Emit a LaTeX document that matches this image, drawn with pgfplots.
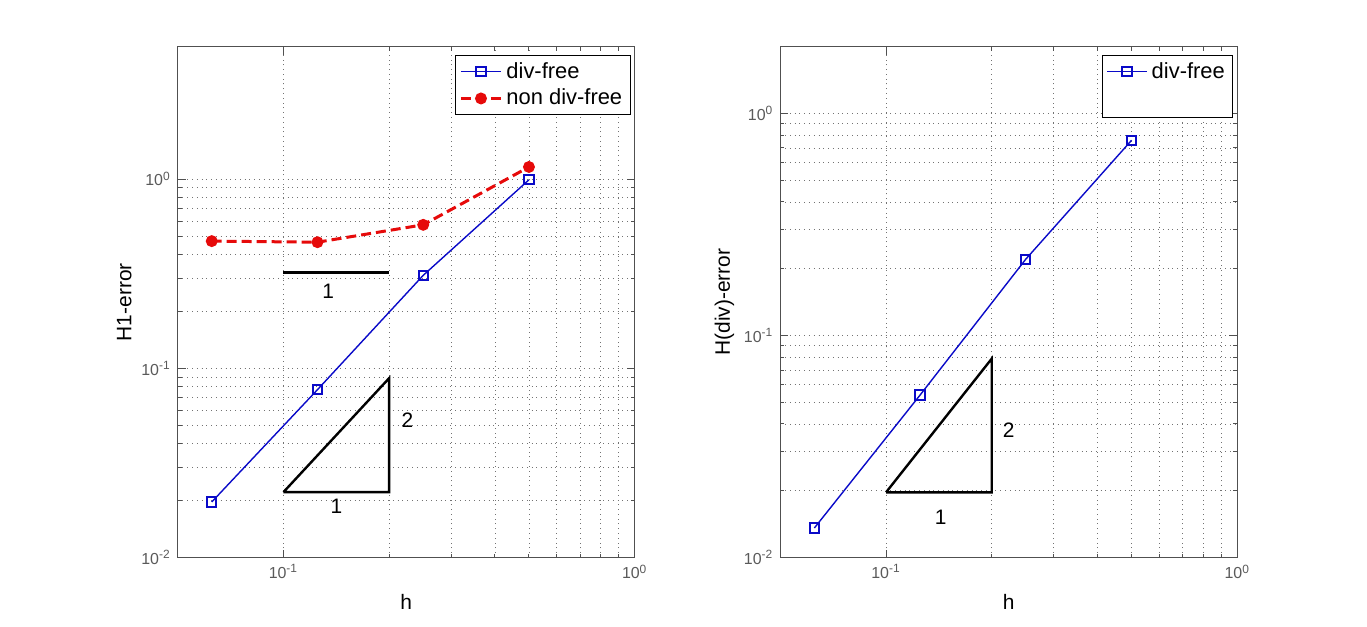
\documentclass[border=0pt]{standalone}
\usepackage{fontspec}
\setmainfont{Liberation Sans}
\usepackage{pgfplots}
\pgfplotsset{compat=1.18}
\definecolor{mblue}{RGB}{10,10,200}
\definecolor{mred}{RGB}{230,10,10}
\definecolor{axgray}{RGB}{80,80,80}
\definecolor{tlgray}{RGB}{90,90,90}
\begin{document}
\begin{tikzpicture}
\useasboundingbox (0,0) rectangle (683.5bp,313.5bp);
\begin{axis}[at={(88.85bp,34.65bp)}, anchor=south west,
  xmode=log, ymode=log,
  scale only axis, width=228.5bp, height=255.5bp,
  xmin=0.05, xmax=1, ymin=0.01, ymax=5,
  xtick={0.1,1}, xticklabels={10\textsuperscript{-1},10\textsuperscript{0}},
  ytick={0.01,0.1,1}, yticklabels={10\textsuperscript{-2},10\textsuperscript{-1},10\textsuperscript{0}},
  grid=both,
  major grid style={dotted, black!55, line width=0.4bp},
  minor grid style={dotted, black!55, line width=0.4bp},
  axis line style={axgray, line width=0.5bp},
  tick style={axgray, line width=0.5bp},
  tick align=inside,
  major tick length=4bp, minor tick length=2bp,
  tick label style={font=\fontsize{8}{9}\selectfont, text=tlgray},
  xlabel={h}, ylabel={H1-error},
  xlabel style={font=\fontsize{10.5}{12}\selectfont, yshift=-1bp},
  ylabel style={font=\fontsize{10.5}{12}\selectfont, yshift=-2bp},
  legend style={at={(1,1)}, anchor=north east, xshift=-2bp, yshift=-4bp,
    draw=black, line width=0.5bp, font=\fontsize{11}{13}\selectfont,
    inner xsep=2bp, inner ysep=1.5bp, row sep=0bp},
  legend cell align=left,
  legend image code/.code={\draw[mark repeat=2,mark phase=2,#1] plot coordinates {(0bp,0bp) (10bp,0bp) (20bp,0bp)};},
]
\addplot[mblue, line width=0.7bp, mark=square, mark size=2.3bp, mark options={solid, line width=1bp}] coordinates {(0.0625,0.0197) (0.125,0.0772) (0.25,0.310) (0.5,0.991)};
\addlegendentry{div-free}
\addplot[mred, line width=1.5bp, dash pattern=on 5bp off 2.5bp, mark=*, mark size=2.2bp, mark options={solid}] coordinates {(0.0625,0.470) (0.125,0.464) (0.25,0.573) (0.5,1.158)};
\addlegendentry{non div-free}
\addplot[black, line width=1.2bp, forget plot] coordinates {(0.1,0.0222) (0.2,0.0222) (0.2,0.0888) (0.1,0.0222)};
\addplot[black, line width=1.2bp, forget plot] coordinates {(0.1,0.3206) (0.2,0.3206)};
\node[font=\fontsize{10.5}{12}\selectfont] at (axis cs:0.1416,0.0188) {1};
\node[font=\fontsize{10.5}{12}\selectfont] at (axis cs:0.2255,0.053) {2};
\node[font=\fontsize{10.5}{12}\selectfont] at (axis cs:0.134,0.255) {1};
\end{axis}
\begin{axis}[at={(390.15bp,34.65bp)}, anchor=south west,
  xmode=log, ymode=log,
  scale only axis, width=228.5bp, height=255.5bp,
  xmin=0.05, xmax=1, ymin=0.01, ymax=2,
  xtick={0.1,1}, xticklabels={10\textsuperscript{-1},10\textsuperscript{0}},
  ytick={0.01,0.1,1}, yticklabels={10\textsuperscript{-2},10\textsuperscript{-1},10\textsuperscript{0}},
  grid=both,
  major grid style={dotted, black!55, line width=0.4bp},
  minor grid style={dotted, black!55, line width=0.4bp},
  axis line style={axgray, line width=0.5bp},
  tick style={axgray, line width=0.5bp},
  tick align=inside,
  major tick length=4bp, minor tick length=2bp,
  tick label style={font=\fontsize{8}{9}\selectfont, text=tlgray},
  xlabel={h}, ylabel={H(div)-error},
  xlabel style={font=\fontsize{10.5}{12}\selectfont, yshift=-1bp},
  ylabel style={font=\fontsize{10.5}{12}\selectfont, yshift=-2bp},
  legend style={at={(1,1)}, anchor=north east, xshift=-2bp, yshift=-4bp,
    draw=black, line width=0.5bp, font=\fontsize{11}{13}\selectfont,
    inner xsep=2bp, inner ysep=1.5bp, row sep=0bp},
  legend cell align=left,
  legend image code/.code={\draw[mark repeat=2,mark phase=2,#1] plot coordinates {(0bp,0bp) (10bp,0bp) (20bp,0bp)};},
]
\addplot[mblue, line width=0.7bp, mark=square, mark size=2.3bp, mark options={solid, line width=1bp}] coordinates {(0.0625,0.0136) (0.125,0.054) (0.25,0.221) (0.5,0.758)};
\addlegendentry{div-free}
\addlegendimage{empty legend}
\addlegendentry{\strut}
\addplot[black, line width=1.2bp, forget plot] coordinates {(0.1,0.0197) (0.2,0.0197) (0.2,0.0788) (0.1,0.0197)};
\node[font=\fontsize{10.5}{12}\selectfont] at (axis cs:0.143,0.0152) {1};
\node[font=\fontsize{10.5}{12}\selectfont] at (axis cs:0.2236,0.0376) {2};
\end{axis}
\end{tikzpicture}
\end{document}
